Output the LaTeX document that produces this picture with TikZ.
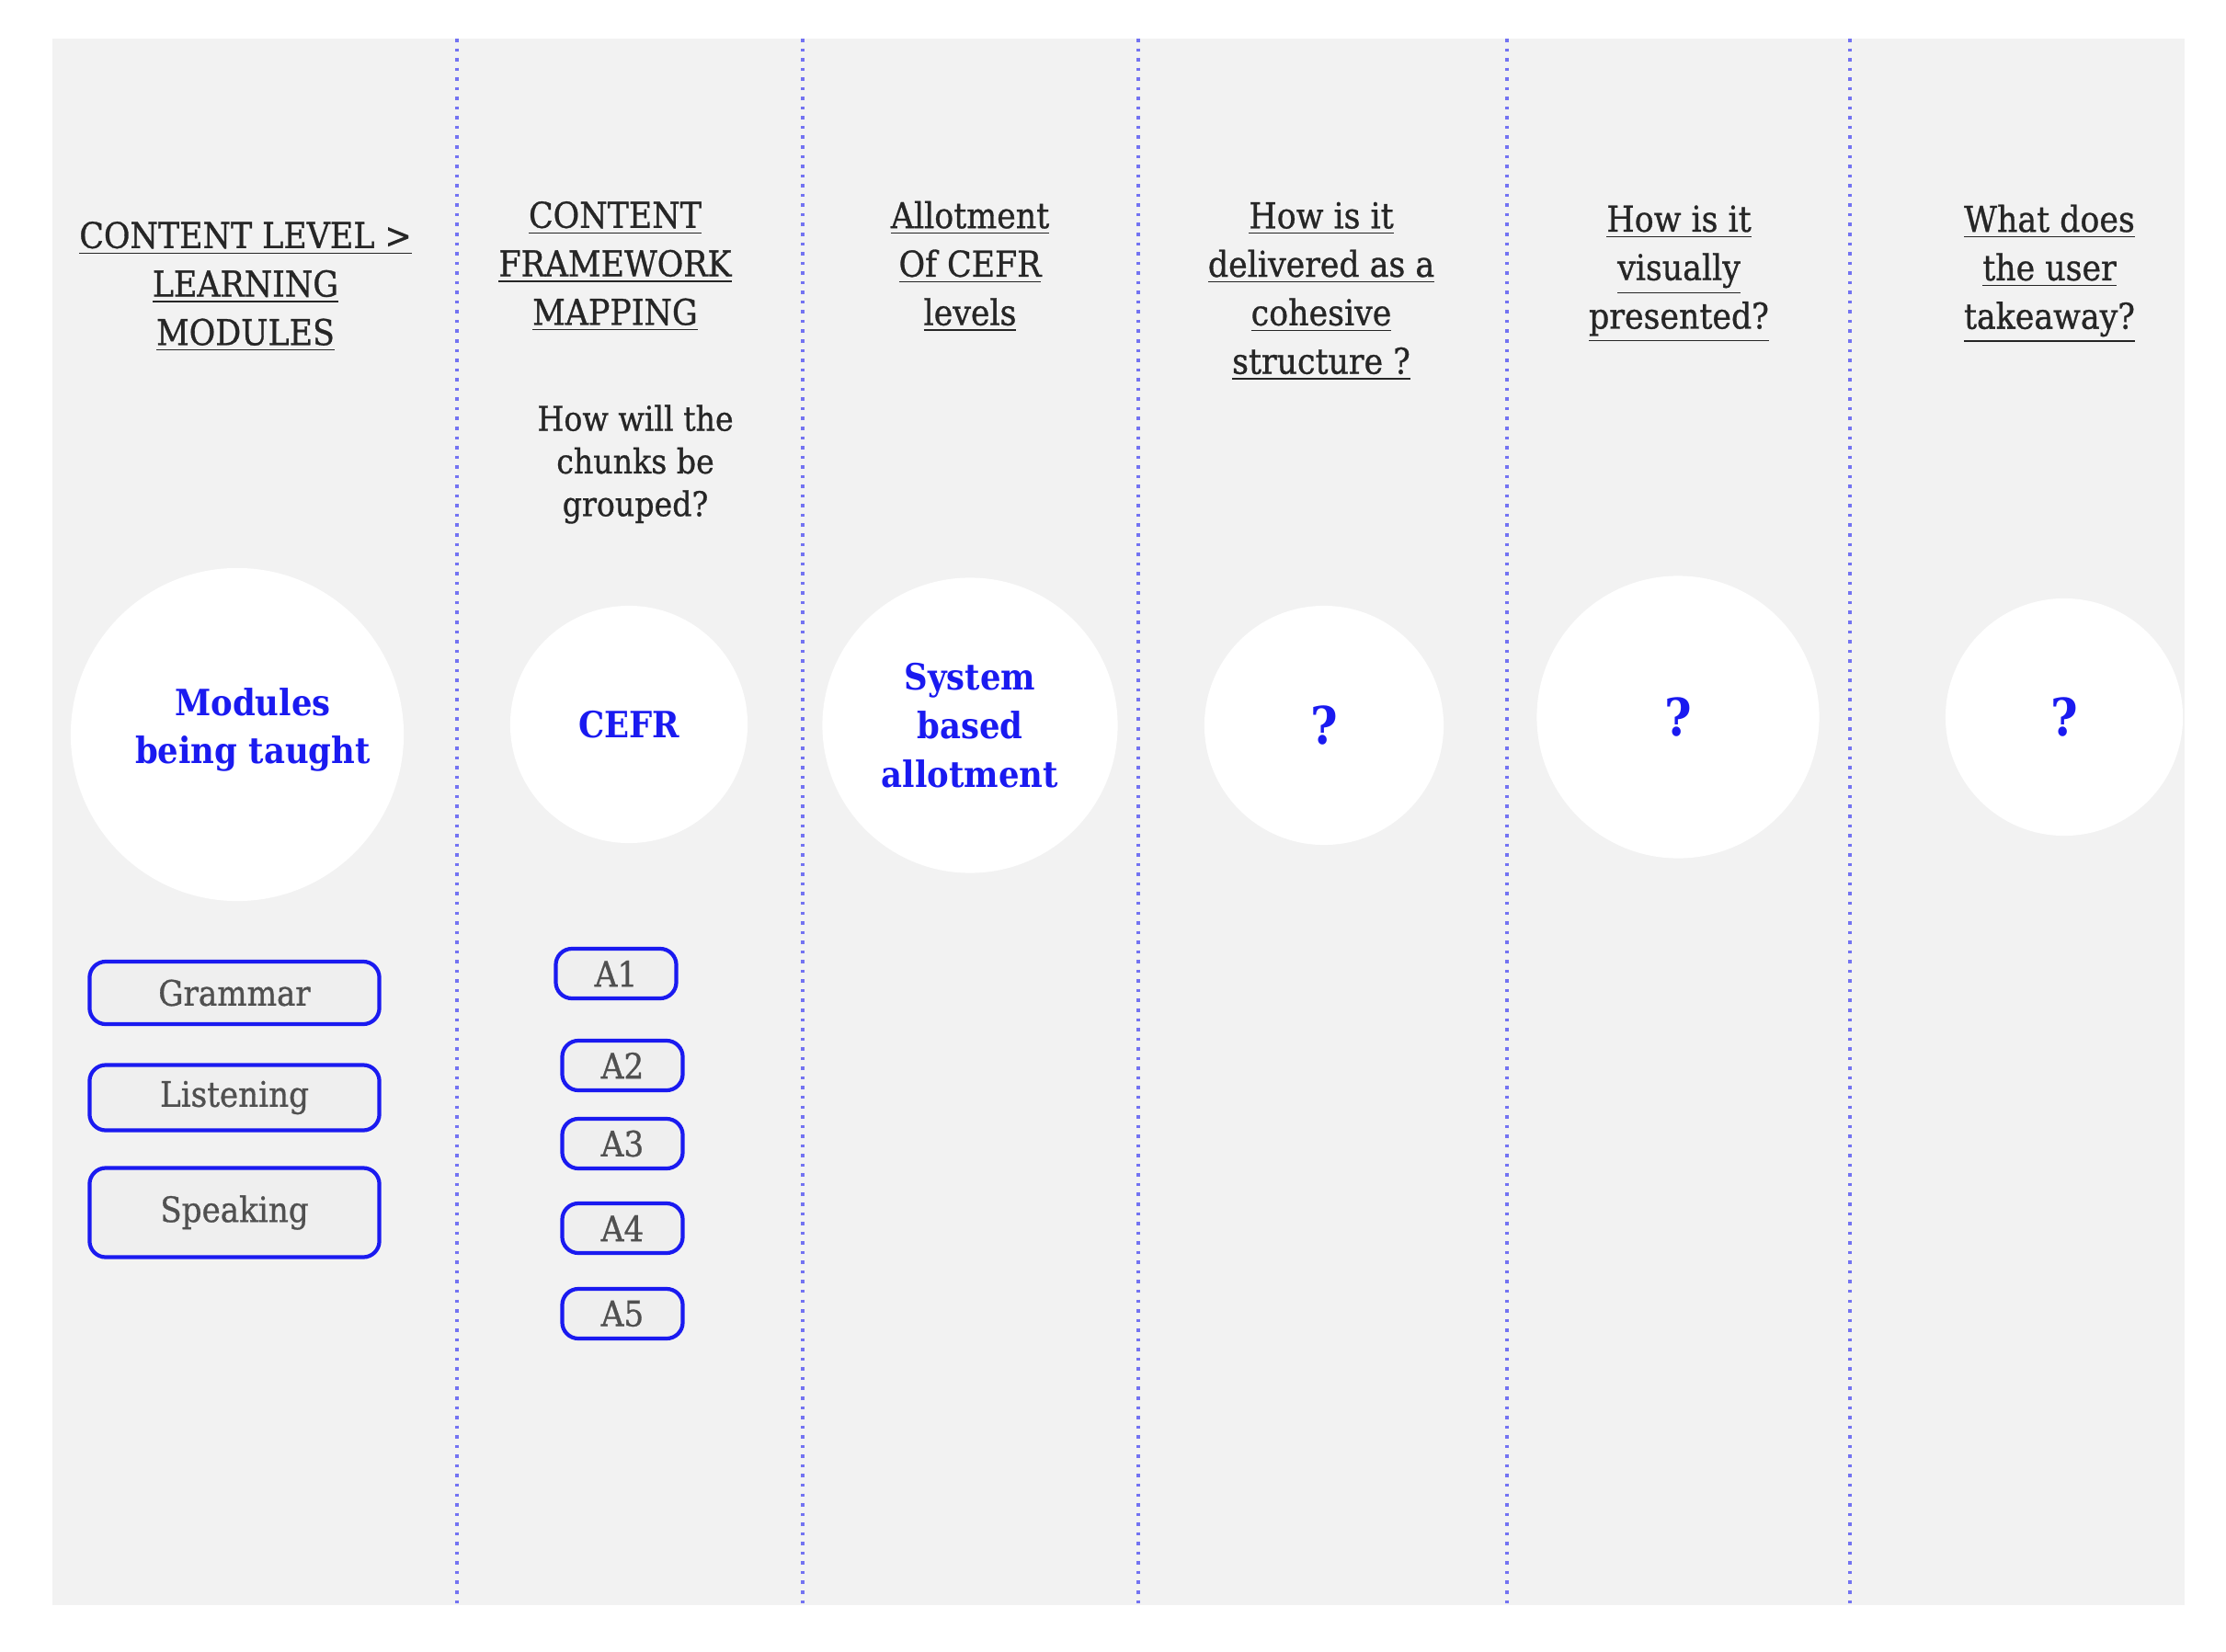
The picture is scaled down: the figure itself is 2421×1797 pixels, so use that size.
\documentclass[tikz,border=0pt]{standalone}
\usepackage{fontspec}
\setmainfont{DejaVu Serif Condensed}
\newfontfamily\slabfont{DejaVu Serif Condensed}[FakeBold=0.8]
\usetikzlibrary{positioning}
\definecolor{panelgray}{HTML}{F2F2F2}
\definecolor{boxgray}{HTML}{EFEFEF}
\definecolor{linkblue}{HTML}{1A1AF0}
\definecolor{sepblue}{HTML}{7373F2}
\definecolor{inkgray}{HTML}{505050}
\begin{document}
\begin{tikzpicture}[x=0.01cm,y=-0.01cm,
	head/.style={align=center,text=black!85,font=\slabfont\fontsize{11}{15}\selectfont},
	ask/.style={align=center,text=black!85,font=\slabfont\fontsize{10.5}{13.2}\selectfont},
	bubble/.style={circle,fill=white,inner sep=0pt,align=center,text=linkblue,font=\fontsize{11.2}{15}\selectfont\bfseries},
	qmark/.style={bubble,font=\fontsize{16}{18}\selectfont\bfseries},
	skill/.style={draw=linkblue,line width=1.2pt,rounded corners=5pt,fill=boxgray,text=inkgray,minimum width=3.15cm,font=\slabfont\fontsize{10.8}{12}\selectfont},
	level/.style={skill,minimum width=1.31cm,minimum height=0.54cm},
	sep/.style={sepblue,dotted,line width=1pt}]
	\useasboundingbox (0,0) rectangle (2421,1797);
	\fill[panelgray] (57,42) rectangle (2376,1746);
	% column dividers
	\foreach \x in {497,873,1238,1639,2012}
		\draw[sep] (\x,42) -- (\x,1746);
	% headings
	\node[head] (hmodules) at (267,312) {\underline{CONTENT LEVEL >}\\\underline{LEARNING}\\\underline{MODULES}};
	\node[head] (hmapping) at (669,290) {\underline{CONTENT}\\\underline{FRAMEWORK}\\\underline{MAPPING}};
	\node[ask] (hchunks) at (691,505) {How will the\\chunks be\\grouped?};
	\node[head] (hallot) at (1055,290) {\underline{Allotment}\\\underline{Of CEFR}\\\underline{levels}};
	\node[head] (hdeliver) at (1437,317) {\underline{How is it}\\\underline{delivered as a}\\\underline{cohesive}\\\underline{structure ?}};
	\node[head] (hvisual) at (1826,298) {\underline{How is it}\\\underline{visually}\\\underline{presented?}};
	\node[head] (htake) at (2229,298) {\underline{What does}\\\underline{the user}\\\underline{takeaway?}};
	% circles
	\node[bubble,minimum size=3.62cm] (modules) at (258,799) {};
	\node[bubble,fill=none] (modtext) at (275,794) {Modules\\being taught};
	\node[bubble,minimum size=2.58cm] (cefr) at (684,788) {CEFR};
	\node[bubble,minimum size=3.21cm] (system) at (1055,789) {System\\based\\allotment};
	\node[qmark,minimum size=2.6cm] (deliver) at (1440,789) {?};
	\node[qmark,minimum size=3.07cm] (visual) at (1825,780) {?};
	\node[qmark,minimum size=2.58cm] (takeaway) at (2245,780) {?};
	% modules
	\node[skill,minimum height=0.68cm] (grammar) at (255,1080) {Grammar};
	\node[skill,minimum height=0.71cm] (listening) at (255,1194) {Listening};
	\node[skill,minimum height=0.97cm] (speaking) at (255,1319) {Speaking};
	% levels
	\node[level] (a1) at (670,1059) {A1};
	\foreach \n/\y in {2/1159,3/1244,4/1336,5/1429}
		\node[level] (a\n) at (677,\y) {A\n};
\end{tikzpicture}
\end{document}
